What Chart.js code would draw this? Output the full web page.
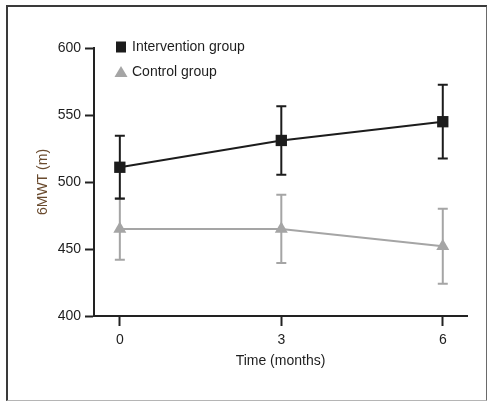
<!DOCTYPE html>
<html>
<head>
<meta charset="utf-8">
<script src="https://cdn.jsdelivr.net/npm/chart.js@4/dist/chart.umd.min.js"></script>
<style>
  html, body { margin: 0; padding: 0; background: #fff; }
  #wrap { position: relative; width: 487px; height: 401px; overflow: hidden; }
  #frame { position: absolute; left: 6px; top: 5px; width: 478px; height: 393px;
           border-left: 2px solid #3a3a3a; border-top: 2px solid #3a3a3a;
           border-right: 2px solid #6a6a6a; border-bottom: 1px solid #b5b5b5; }
  canvas { position: absolute; left: 0; top: 0; }
</style>
</head>
<body>
<div id="wrap">
  <div id="frame"></div>
  <canvas id="c" width="487" height="401"></canvas>
</div>
<script>
// ---- data ----
const months = [0, 3, 6];
const xTickValues = [0, 3, 6];
const interventionMean = [511, 531, 545];
const interventionErr  = [23.5, 25.5, 27.5];
const controlMean = [465, 465, 452];
const controlErr  = [23, 25.5, 28];
const seriesLabels = ['Intervention group', 'Control group'];
const yTitle = '6MWT (m)';
const xTitle = 'Time (months)';

const BLACK = '#1c1c1c';
const GRAY = '#a5a5a5';
const TEXT = '#1e1e1e';
const FONT = "'Liberation Sans', Arial, sans-serif";

const toPts = (xs, ys) => xs.map((x, i) => ({ x: x, y: ys[i] }));

const errorBars = {
  id: 'errorBars',
  beforeDatasetsDraw(chart) {
    const ctx = chart.ctx;
    const xs = chart.scales.x, ys = chart.scales.y;
    const sets = [
      { mean: controlMean, err: controlErr, color: GRAY },
      { mean: interventionMean, err: interventionErr, color: BLACK }
    ];
    ctx.save();
    sets.forEach(s => {
      ctx.strokeStyle = s.color;
      ctx.lineWidth = 2;
      months.forEach((m, i) => {
        const px = xs.getPixelForValue(m);
        const top = ys.getPixelForValue(s.mean[i] + s.err[i]);
        const bot = ys.getPixelForValue(s.mean[i] - s.err[i]);
        ctx.beginPath();
        ctx.moveTo(px, top); ctx.lineTo(px, bot);
        ctx.moveTo(px - 5, top); ctx.lineTo(px + 5, top);
        ctx.moveTo(px - 5, bot); ctx.lineTo(px + 5, bot);
        ctx.stroke();
      });
    });
    ctx.restore();
  }
};

const customLegend = {
  id: 'customLegend',
  afterDraw(chart) {
    const ctx = chart.ctx;
    const a = chart.chartArea;
    const mx = a.left + 27, tx = a.left + 38;
    const y1 = a.top - 1, y2 = a.top + 24;
    ctx.save();
    ctx.fillStyle = BLACK;
    ctx.fillRect(mx - 5, y1 - 5.5, 10, 11);
    ctx.fillStyle = GRAY;
    ctx.beginPath();
    ctx.moveTo(mx, y2 - 6); ctx.lineTo(mx + 6.5, y2 + 5); ctx.lineTo(mx - 6.5, y2 + 5); ctx.closePath();
    ctx.fill();
    ctx.font = '14px ' + FONT;
    ctx.fillStyle = TEXT;
    ctx.textBaseline = 'middle';
    ctx.textAlign = 'left';
    ctx.fillText(chart.data.datasets[0].label, tx, y1);
    ctx.fillText(chart.data.datasets[1].label, tx, y2);
    ctx.restore();
  }
};

new Chart(document.getElementById('c'), {
  type: 'line',
  data: {
    datasets: [
      {
        label: seriesLabels[0],
        data: toPts(months, interventionMean),
        borderColor: BLACK, backgroundColor: BLACK,
        borderWidth: 2, pointStyle: 'rect', pointRadius: 8,
        pointBorderWidth: 0, tension: 0
      },
      {
        label: seriesLabels[1],
        data: toPts(months, controlMean),
        borderColor: GRAY, backgroundColor: GRAY,
        borderWidth: 2, pointStyle: 'triangle', pointRadius: 7.5,
        pointBorderWidth: 0, tension: 0
      }
    ]
  },
  options: {
    responsive: false,
    devicePixelRatio: 1,
    animation: false,
    layout: { padding: { left: 31, top: 48, right: 20, bottom: 27 } },
    plugins: { legend: { display: false }, tooltip: { enabled: false } },
    scales: {
      x: {
        type: 'linear', position: 'bottom', min: -0.48, max: 6.45,
        afterBuildTicks: (axis) => { axis.ticks = xTickValues.map(v => ({ value: v })); },
        afterFit: (s) => { s.height = 58; },
        grid: { drawOnChartArea: false, drawTicks: true, tickLength: 10, tickColor: '#222', tickWidth: 2 },
        border: { color: '#222', width: 2 },
        ticks: { padding: 6, color: TEXT, font: { size: 14, family: FONT } },
        title: { display: true, text: xTitle, color: TEXT, font: { size: 14, family: FONT }, padding: { top: 4, bottom: 4 } }
      },
      y: {
        min: 400, max: 600,
        ticks: { stepSize: 50, padding: 4, color: TEXT, font: { size: 14, family: FONT } },
        afterFit: (s) => { s.width = 63; },
        grid: { drawOnChartArea: false, drawTicks: true, tickLength: 9, tickColor: '#222', tickWidth: 2 },
        border: { color: '#222', width: 2 },
        title: { display: true, text: yTitle, color: '#6a4b2e', font: { size: 14, family: FONT }, padding: { top: 4, bottom: 4 } }
      }
    }
  },
  plugins: [errorBars, customLegend]
});
</script>
</body>
</html>
